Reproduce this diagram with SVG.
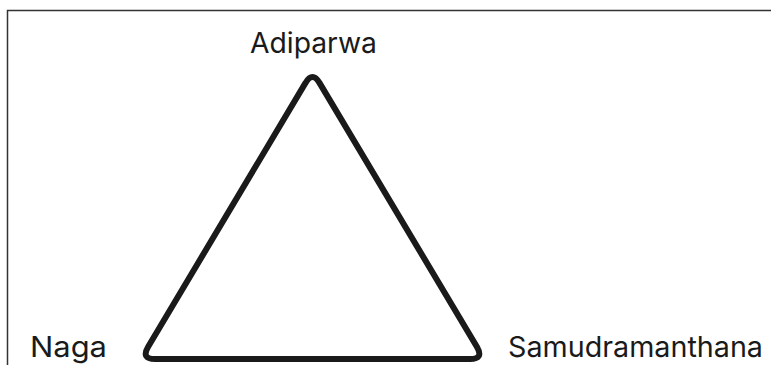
<svg xmlns="http://www.w3.org/2000/svg" width="771" height="365" viewBox="0 0 771 365">
<style>
.lbl{font-family:Inter,"Liberation Sans",sans-serif;font-size:28.5px;fill:#1a1a1a}
.frame{stroke:#333;stroke-width:1.5;fill:none}
.edge{stroke:#1a1a1a;stroke-width:6;fill:none;stroke-linejoin:round;stroke-linecap:round}
</style>
<rect width="771" height="365" fill="#fff"/>
<path class="frame" d="M7.5,365 V10.5 H771"/>
<g id="connectors">
<path class="edge" d="M305.5,82.9 L148,347 Q141,359 155,359 L470,359 Q484,359 477,347 L319.5,82.9 Q312.5,71 305.5,82.9 Z"/>
</g>
<g id="adiparwa"><text class="lbl" x="250" y="53" textLength="127" lengthAdjust="spacingAndGlyphs">Adiparwa</text></g>
<g id="naga"><text class="lbl" x="30" y="356.5" textLength="77" lengthAdjust="spacingAndGlyphs">Naga</text></g>
<g id="samudramanthana"><text class="lbl" x="508" y="356.5" textLength="255" lengthAdjust="spacingAndGlyphs">Samudramanthana</text></g>
</svg>
